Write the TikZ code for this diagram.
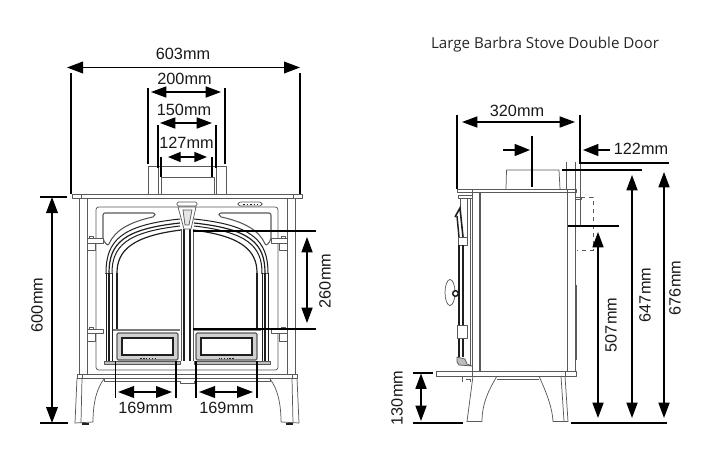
\documentclass[tikz,border=0pt]{standalone}
\usepackage{fontspec}
\setmainfont{Liberation Sans}
\newfontfamily\titlefont{Open Sans}
\usetikzlibrary{arrows.meta}
\definecolor{stoveline}{gray}{0.35}
\definecolor{stovedark}{gray}{0.12}
\tikzset{
  stove/.style={draw=stoveline,line width=0.55pt,line join=round},
  stovearch/.style={draw=stovedark,line width=0.75pt},
  stovethick/.style={draw=stovedark,line width=1.1pt},
  dimbig/.style={draw=black,line width=1pt,{Triangle[length=12pt,width=8.8pt]}-{Triangle[length=12pt,width=8.8pt]}},
  dimmid/.style={draw=black,line width=1pt,{Triangle[length=11.5pt,width=8.3pt]}-{Triangle[length=11.5pt,width=8.3pt]}},
  dimsmall/.style={draw=black,line width=1pt,{Triangle[length=9.5pt,width=7.5pt]}-{Triangle[length=9.5pt,width=7.5pt]}},
  dimone/.style={draw=black,line width=1pt,-{Triangle[length=11.5pt,width=9pt]}},
  ext/.style={draw=black,line width=0.8pt},
  lab/.style={font=\fontsize{12.2}{14}\selectfont,inner sep=0pt,text=black!90},
  vlab/.style={lab,rotate=90},
}
\newcommand\halffront{%
  % body side
  \draw[stove] (79,198) -- (79,374) (87,198) -- (87,374);
  % base plate half
  \draw[stove] (187,374) -- (77,374) -- (77,378) -- (187,378);
  \draw[stove] (82,374) -- (82,378);
  \draw[stove] (104,378) -- (104,381) -- (180,381) -- (180,383) -- (187,383);
  % leg
  \draw[stove] (77,378) -- (75,423) -- (93,422)
     .. controls (93,402) and (97,388) .. (104,379);
  \draw[stove] (82,378) -- (81,423);
  \draw[stovedark,fill=stovedark] (82,423) rectangle (88,424.5);
  % door frame
  \draw[stove,rounded corners=2pt] (187,207) -- (96,207) -- (96,370) -- (187,370);
  % spandrel
  \draw[stove,line width=0.8pt,rounded corners=1.5pt] (103,213) -- (155,213) -- (155,216.5)
     .. controls (130,222) and (115,230) .. (108,246) -- (103,240) -- cycle;
  % arches
  \draw[stovearch] (106,273) .. controls (106,240) and (122,225) .. (180,219);
  \draw[stovearch,line width=0.9pt] (109,273) .. controls (109,243) and (124,229) .. (180,223);
  \draw[stovearch] (112,273) .. controls (112,246) and (127,232) .. (180,226);
  \draw[stovearch,line width=0.9pt] (117,273) .. controls (117,250) and (133,236) .. (181,230);
  \draw[stove] (105,273) -- (113,273);
  % door verticals
  \draw[stovearch] (106,273) -- (106,361) (112,273) -- (112,361);
  \draw[stovethick] (109,273) -- (109,361) (117,273) -- (117,329);
  \draw[stove] (181,229) -- (181,361);
  \draw[stovethick] (184,229) -- (184,361);
  % lower panel
  \draw[stove,line width=1.3pt,draw=stoveline!80] (113,330) -- (180,330);
  \draw[stove,line width=0.9pt,rounded corners=1pt,fill=black!18] (117,333) rectangle (178,360);
  \draw[stovearch,line width=1pt,fill=white] (122,338) rectangle (173,355);
  \draw[stove,fill=black!25] (104,361) rectangle (180,364);
  % logo
  \draw[stovedark,line width=0.7pt,dash pattern=on 1.2pt off 1pt] (140,358.5) -- (155,358.5);
  % hinges
  \draw[stove,fill=white] (87,238) rectangle (103,243);
  \draw[stove,fill=white] (87,243) rectangle (95,250);
  \draw[stove,fill=white] (89,236) rectangle (93,238);
  \draw[stove,fill=white] (87,329) rectangle (103,333);
  \draw[stove,fill=white] (87,333) rectangle (95,341);
  \draw[stove,fill=white] (89,327) rectangle (93,329);
}
\begin{document}
\begin{tikzpicture}[x=0.75pt,y=-0.75pt]
\useasboundingbox (0,0) rectangle (727,460);
% ---------- front view ----------
\draw[stove] (72,194.5) rectangle (302,198.5);
\draw[stove] (81,194.5) -- (81,198.5) (293,194.5) -- (293,198.5);
\halffront
\begin{scope}[shift={(374,0)},xscale=-1]
  \halffront
\end{scope}
% flue
\draw[stove] (148,194) -- (148,166) -- (226,166) -- (226,194);
\draw[stove] (158,194) -- (158,166) (216,194) -- (216,166);
\draw[stove] (161,194) -- (161,177) -- (214,177) -- (214,194);
% centre handle and vent
\draw[stove,rounded corners=1pt] (177,202) rectangle (197,206);
\draw[stove,fill=white] (178,207) -- (196,207) -- (191,229) -- (184,229) -- cycle;
\draw[stove,fill=black!10] (183,210) -- (192,210) -- (189,225) -- (185,225) -- cycle;
\draw[stove,rounded corners=2pt] (238,202) rectangle (262,206);
\draw[stovedark,line width=0.6pt,dash pattern=on 1.2pt off 1.5pt] (243,204) -- (258,204);
% ---------- side view ----------
\draw[stove] (457,189) rectangle (576,192);
\draw[stove] (472,189) -- (472,192) (479,192) -- (479,371);
\draw[stove] (472,192) -- (472,371) (480,371) -- (480,192);
\draw[stove] (567,189) -- (567,371) (575,189) -- (575,371);
\draw[stove] (506,189) -- (506.5,170) -- (559,170) -- (560,189);
\draw[stove] (566,162) -- (566,189) (575,162) -- (575,189);
\draw[stove] (580,163) -- (580,225);
\draw[stove] (436,371) rectangle (576,376);
\draw[stove] (472,371) -- (472,376) (565,371) -- (565,376);
\draw[stove] (576,285) -- (576,360);
\draw[stove] (575,197) rectangle (581,199);
\draw[stove,dashed] (581,197) -- (593,197) -- (593,250) -- (577,250);
% door
\draw[stove] (458,198) rectangle (472,195);
\draw[stove] (460,198) -- (460,208) (467,198) -- (467,237) (470,198) -- (470,365);
\draw[stovethick,line width=1.2pt] (455,217) -- (460,208) -- (463,237);
\draw[stovethick] (457,216) -- (459,237);
\draw[stove,fill=white] (458,237) rectangle (467,245);
\draw[stovethick,line width=1.2pt] (459,245) -- (459,357) (463,245) -- (463,357);
\draw[stove,fill=white] (457,325) rectangle (467,338);
\draw[stove,fill=stoveline!40] (457,357) -- (465,359) -- (467,364) -- (472,366) -- (459,365) -- (457,362) -- cycle;
\draw[stove] (450,292.5) ellipse [x radius=5,y radius=13];
\draw[stovethick,fill=white] (455.5,293.5) circle [radius=2.8];
% legs
\draw[stove] (473,376) -- (467,421.5) -- (482,421.5)
   .. controls (482,402) and (490,388) .. (497,376);
\draw[stove] (497,379) -- (539,379);
\draw[stove] (539,376) .. controls (545,390) and (552,405) .. (553,421.5)
   -- (568,421.5) -- (565,376);
\draw[stove] (561,376) -- (564,421);
\draw[stove] (462,376) -- (462,382) (466,379) -- (470,379) -- (470,382);
% ---------- dimension coordinates ----------
\coordinate (a603l) at (67,67.5);   \coordinate (a603r) at (300,67.5);
\coordinate (e603la) at (71,73);    \coordinate (e603lb) at (71,194);
\coordinate (e603ra) at (300,73);   \coordinate (e603rb) at (300,194);
\coordinate (a200l) at (151,92);    \coordinate (a200r) at (221,92);
\coordinate (e200la) at (148,88);   \coordinate (e200lb) at (148,164);
\coordinate (e200ra) at (225,88);   \coordinate (e200rb) at (225,164);
\coordinate (a150l) at (160,123);   \coordinate (a150r) at (212,123);
\coordinate (e150la) at (158,125);  \coordinate (e150lb) at (158,168);
\coordinate (e150ra) at (216,125);  \coordinate (e150rb) at (216,168);
\coordinate (a127l) at (168,157);   \coordinate (a127r) at (207,157);
\coordinate (e127la) at (161,157);  \coordinate (e127lb) at (161,177);
\coordinate (e127ra) at (212,157);  \coordinate (e127rb) at (212,177);
\coordinate (a600t) at (52,197);    \coordinate (a600b) at (52,423);
\coordinate (t600a) at (40,197);    \coordinate (t600b) at (67,197);
\coordinate (b600a) at (40,423);    \coordinate (b600b) at (68,423);
\coordinate (a260t) at (307,237);   \coordinate (a260b) at (307,323);
\coordinate (t260a) at (193,231);   \coordinate (t260b) at (316,231);
\coordinate (b260a) at (193,329);   \coordinate (b260b) at (316,329);
\coordinate (a169l) at (118,392);   \coordinate (a169r) at (172,392);
\coordinate (e169la) at (115.5,361);\coordinate (e169lb) at (115.5,397.5);
\coordinate (e169ra) at (176,361);  \coordinate (e169rb) at (176,397.5);
\coordinate (c169l) at (199,392);   \coordinate (c169r) at (253,392);
\coordinate (f169la) at (196,361);  \coordinate (f169lb) at (196,397.5);
\coordinate (f169ra) at (257,361);  \coordinate (f169rb) at (257,397.5);
\coordinate (a320l) at (462,122);   \coordinate (a320r) at (575,122);
\coordinate (e320la) at (457,115);  \coordinate (e320lb) at (457,189);
\coordinate (e320ra) at (580,115);  \coordinate (e320rb) at (580,163);
\coordinate (p122a) at (503,150);   \coordinate (p122b) at (530,150);
\coordinate (q122a) at (610,150);   \coordinate (q122b) at (583,150);
\coordinate (e122a) at (532,136);   \coordinate (e122b) at (532,187);
\coordinate (h676a) at (579,163);   \coordinate (h676b) at (669,163);
\coordinate (h647a) at (562,170);   \coordinate (h647b) at (642,170);
\coordinate (h507a) at (568,226);   \coordinate (h507b) at (619,226);
\coordinate (a507t) at (598,232);   \coordinate (a507b) at (598,418);
\coordinate (a647t) at (632,175);   \coordinate (a647b) at (632,418);
\coordinate (a676t) at (664,172);   \coordinate (a676b) at (664,418);
\coordinate (hba) at (571,423);     \coordinate (hbb) at (667,423);
\coordinate (a130t) at (421,373.5); \coordinate (a130b) at (421,421);
\coordinate (t130a) at (413,373);   \coordinate (t130b) at (433,373);
\coordinate (b130a) at (413,423);   \coordinate (b130b) at (463,423);
% ---------- connectors ----------
\draw[dimbig] (a603l) -- (a603r);
\draw[ext] (e603la) -- (e603lb);
\draw[ext] (e603ra) -- (e603rb);
\draw[dimmid] (a200l) -- (a200r);
\draw[ext] (e200la) -- (e200lb);
\draw[ext] (e200ra) -- (e200rb);
\draw[dimmid] (a150l) -- (a150r);
\draw[ext] (e150la) -- (e150lb);
\draw[ext] (e150ra) -- (e150rb);
\draw[dimsmall] (a127l) -- (a127r);
\draw[ext] (e127la) -- (e127lb);
\draw[ext] (e127ra) -- (e127rb);
\draw[dimbig] (a600t) -- (a600b);
\draw[ext] (t600a) -- (t600b);
\draw[ext] (b600a) -- (b600b);
\draw[dimmid] (a260t) -- (a260b);
\draw[ext] (t260a) -- (t260b);
\draw[ext] (b260a) -- (b260b);
\draw[dimbig] (a169l) -- (a169r);
\draw[ext] (e169la) -- (e169lb);
\draw[ext] (e169ra) -- (e169rb);
\draw[dimbig] (c169l) -- (c169r);
\draw[ext] (f169la) -- (f169lb);
\draw[ext] (f169ra) -- (f169rb);
\draw[dimmid] (a320l) -- (a320r);
\draw[ext] (e320la) -- (e320lb);
\draw[ext] (e320ra) -- (e320rb);
\draw[dimone] (p122a) -- (p122b);
\draw[dimone] (q122a) -- (q122b);
\draw[ext] (e122a) -- (e122b);
\draw[ext] (h676a) -- (h676b);
\draw[ext,line width=1.1pt] (h647a) -- (h647b);
\draw[ext] (h507a) -- (h507b);
\draw[dimmid] (a507t) -- (a507b);
\draw[dimmid] (a647t) -- (a647b);
\draw[dimmid] (a676t) -- (a676b);
\draw[ext] (hba) -- (hbb);
\draw[dimmid] (a130t) -- (a130b);
\draw[ext] (t130a) -- (t130b);
\draw[ext] (b130a) -- (b130b);
% ---------- labels ----------
\node[lab] (l603) at (183,54) {603mm};
\node[lab] (l200) at (184.5,79) {200mm};
\node[lab] (l150) at (184,110) {150mm};
\node[lab] (l127) at (186.5,142.5) {127mm};
\node[vlab] (l600) at (37,305) {600mm};
\node[vlab] (l260) at (325,281) {260mm};
\node[lab] (l169a) at (145.5,408) {169mm};
\node[lab] (l169b) at (226.5,408) {169mm};
\node[lab] (l320) at (517,111) {320mm};
\node[lab] (l122) at (641,149) {122mm};
\node[vlab] (l507) at (611,325) {507mm};
\node[vlab] (l647) at (645,295) {647mm};
\node[vlab] (l676) at (675,288) {676mm};
\node[vlab] (l130) at (397,398) {130mm};
\node[font=\titlefont\fontsize{11.35}{13}\selectfont,inner sep=0pt,text=black!85] (title) at (545,45) {Large Barbra Stove Double Door};
\end{tikzpicture}
\end{document}
